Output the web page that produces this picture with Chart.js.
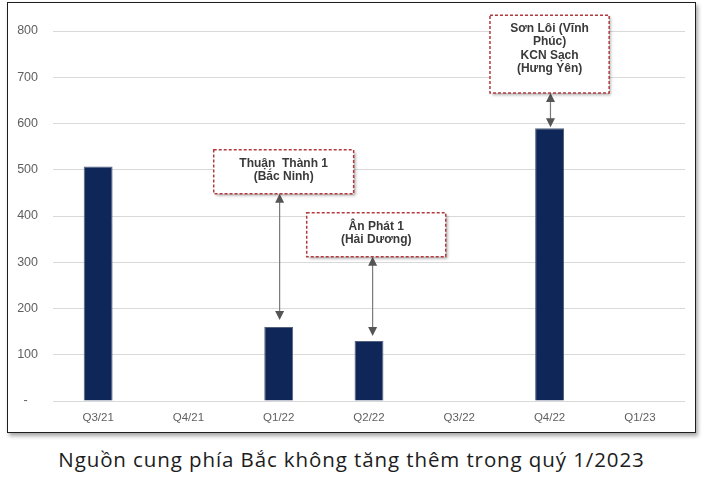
<!DOCTYPE html>
<html lang="vi">
<head>
<meta charset="utf-8">
<script src="https://cdn.jsdelivr.net/npm/chart.js@4.4.0/dist/chart.umd.min.js"></script>
<style>
html, body { margin: 0; padding: 0; background: #fff; width: 703px; height: 489px; overflow: hidden; }
#khung { position: absolute; left: 7px; top: 2px; width: 687px; height: 429px; border: 1.5px solid #1e1e1e; box-shadow: 2px 3px 4px rgba(0,0,0,.35); }
#bieuDo { position: absolute; left: 0; top: 0; }
#tieuDe { position: absolute; left: 0; top: 445px; width: 703px; text-align: center; font-family: "Open Sans"; font-size: 20.5px; letter-spacing: 0.9px; color: #1c1c1c; white-space: nowrap; }
</style>
</head>
<body>
<div id="khung"></div>
<canvas id="bieuDo" width="703" height="440"></canvas>
<div id="tieuDe">Nguồn cung phía Bắc không tăng thêm trong quý 1/2023</div>
<script>
// Dữ liệu
const quy = ["Q3/21", "Q4/21", "Q1/22", "Q2/22", "Q3/22", "Q4/22", "Q1/23"];
const nguonCungMoi = [507, 0, 160, 130, 0, 590, 0];
const mocTrucY = [0, 100, 200, 300, 400, 500, 600, 700, 800];
const nhanDuAn = [
    ["Thuận  Thành 1", "(Bắc Ninh)"],
    ["Ân Phát 1", "(Hải Dương)"],
    ["Sơn Lôi (Vĩnh", "Phúc)", "KCN Sạch", "(Hưng Yên)"]
];

// Vị trí hộp chú thích (theo đơn vị của trục)
const viTriChuThich = [
    { cot: 2, trai: -0.72, phai: 0.83, tren: 543, duoi: 448, lechMuiTen: 0.01, khe: 7 },
    { cot: 3, trai: -0.69, phai: 0.85, tren: 407, duoi: 312, lechMuiTen: 0.04, khe: 5 },
    { cot: 5, trai: -0.66, phai: 0.66, tren: 834, duoi: 666, lechMuiTen: 0.01, khe: 1 }
];

function veMuiTen(ctx, x, y, huong) {
    ctx.beginPath();
    ctx.moveTo(x, y);
    ctx.lineTo(x - 4.5, y + 9 * huong);
    ctx.lineTo(x + 4.5, y + 9 * huong);
    ctx.closePath();
    ctx.fill();
}

const chuThichPlugin = {
    id: "chuThich",
    afterDatasetsDraw(chart) {
        const ctx = chart.ctx;
        const sx = chart.scales.x, sy = chart.scales.y;
        viTriChuThich.forEach((v, i) => {
            const x1 = sx.getPixelForValue(v.cot + v.trai);
            const x2 = sx.getPixelForValue(v.cot + v.phai);
            const y1 = sy.getPixelForValue(v.tren);
            const y2 = sy.getPixelForValue(v.duoi);

            // mũi tên hai đầu
            const xa = sx.getPixelForValue(v.cot + v.lechMuiTen);
            const yDinhCot = sy.getPixelForValue(nguonCungMoi[v.cot]) - v.khe;
            ctx.save();
            ctx.strokeStyle = "#7a7a7a";
            ctx.fillStyle = "#555";
            ctx.lineWidth = 1.2;
            ctx.beginPath();
            ctx.moveTo(xa, y2 + 8);
            ctx.lineTo(xa, yDinhCot - 8);
            ctx.stroke();
            veMuiTen(ctx, xa, y2, 1);
            veMuiTen(ctx, xa, yDinhCot, -1);
            ctx.restore();

            // hộp
            ctx.save();
            ctx.shadowColor = "rgba(0,0,0,0.35)";
            ctx.shadowBlur = 3;
            ctx.shadowOffsetX = 2;
            ctx.shadowOffsetY = 2;
            ctx.fillStyle = "#fff";
            ctx.fillRect(x1, y1, x2 - x1, y2 - y1);
            ctx.restore();
            ctx.save();
            ctx.strokeStyle = "#b23a3e";
            ctx.lineWidth = 1.5;
            ctx.setLineDash([3, 2]);
            ctx.strokeRect(x1, y1, x2 - x1, y2 - y1);
            ctx.restore();

            // chữ
            ctx.save();
            ctx.fillStyle = "#3a3a3a";
            ctx.font = "bold 12px 'Liberation Sans', Arial, sans-serif";
            ctx.textAlign = "center";
            ctx.textBaseline = "middle";
            nhanDuAn[i].forEach((dong, k) => {
                ctx.fillText(dong, (x1 + x2) / 2, y1 + 13.5 + k * 13.3);
            });
            ctx.restore();
        });
    }
};

new Chart(document.getElementById("bieuDo").getContext("2d"), {
    type: "bar",
    data: {
        labels: quy,
        datasets: [{
            data: nguonCungMoi,
            backgroundColor: "#0f2758",
            borderColor: "#56627d",
            borderWidth: 1,
            barPercentage: 0.32,
            categoryPercentage: 1
        }]
    },
    options: {
        responsive: false,
        animation: false,
        layout: { padding: { top: 31, right: 18, left: 0, bottom: 0 } },
        plugins: {
            legend: { display: false },
            tooltip: { enabled: false }
        },
        scales: {
            x: {
                grid: { display: false },
                border: { display: false },
                afterFit: s => { s.height = 39; },
                ticks: {
                    padding: 2,
                    color: "#5f5f5f",
                    font: { family: "'Liberation Sans', Arial", size: 11.5 }
                }
            },
            y: {
                min: 0,
                max: 800,
                afterFit: s => { s.width = 53; },
                afterBuildTicks: s => { s.ticks = mocTrucY.map(v => ({ value: v })); },
                grid: { color: "#d9d9d9", lineWidth: 1, drawTicks: false },
                border: { display: false },
                ticks: {
                    padding: 15,
                    color: "#5f5f5f",
                    font: { family: "'Liberation Sans', Arial", size: 12.5 },
                    callback: v => v === 0 ? "-   " : v
                }
            }
        }
    },
    plugins: [chuThichPlugin]
});
</script>
</body>
</html>
